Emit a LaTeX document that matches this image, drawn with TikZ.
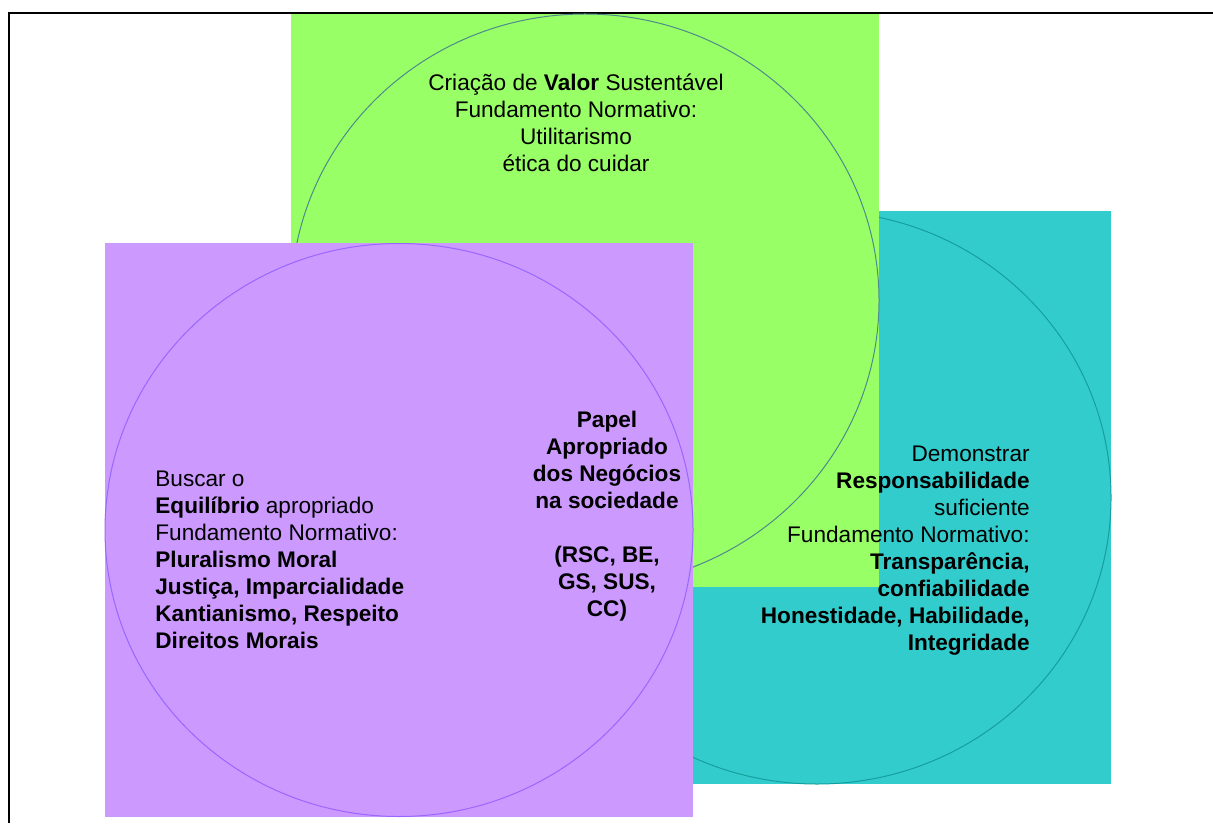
\documentclass[tikz,border=0pt]{standalone}
\usepackage{fontspec}
\setmainfont{Liberation Sans}
\definecolor{greenfill}{HTML}{99FF66}
\definecolor{tealfill}{HTML}{33CCCC}
\definecolor{violetfill}{HTML}{CC99FF}
\definecolor{greenline}{HTML}{4D8A8C}
\definecolor{tealline}{HTML}{169E9E}
\definecolor{violetline}{HTML}{9966FF}
\begin{document}
\begin{tikzpicture}[x=0.5pt,y=-0.5pt,
  label text/.style={inner sep=0pt, font=\fontsize{11.3}{13.5}\selectfont},
  ring/.style={line width=0.5pt},
  frameline/.style={line width=1pt, black}]
\useasboundingbox (0,0) rectangle (1213,823);
% outer frame: top and left rules only
\draw[frameline] (1213,13.5) -- (8.5,13.5) -- (8.5,823);

% teal square with inscribed ellipse (back)
\fill[tealfill] (523,211) rectangle (1111,784);
\draw[ring, tealline] (817,497.5) ellipse [x radius=294, y radius=286.5];

% green square with inscribed ellipse
\fill[greenfill] (291,14) rectangle (879,587);
\draw[ring, greenline] (585,300.5) ellipse [x radius=294, y radius=286.5];

% violet square with inscribed ellipse (front)
\fill[violetfill] (105,243.5) rectangle (693,816.5);
\draw[ring, violetline] (399,530) ellipse [x radius=294, y radius=286.5];

% texts
\node[label text, align=center] (valor) at (576,123)
  {Criação de \textbf{Valor} Sustentável\\Fundamento Normativo:\\Utilitarismo\\ética do cuidar};

\node[label text, align=left, anchor=west] (equilibrio) at (155,560)
  {Buscar o\\\textbf{Equilíbrio} apropriado\\Fundamento Normativo:\\\textbf{Pluralismo Moral}\\\textbf{Justiça, Imparcialidade}\\\textbf{Kantianismo, Respeito}\\\textbf{Direitos Morais}};

\node[label text, align=center, font=\fontsize{11.3}{13.5}\selectfont\bfseries] (papel) at (607,516.5)
  {Papel\\Apropriado\\dos Negócios\\na sociedade\\[13.5pt](RSC, BE,\\GS, SUS,\\CC)};

\node[label text, align=right, anchor=east] (responsabilidade) at (1030,550.5)
  {Demonstrar\\\textbf{Responsabilidade}\\suficiente\\Fundamento Normativo:\\\textbf{Transparência,}\\\textbf{confiabilidade}\\\textbf{Honestidade, Habilidade,}\\\textbf{Integridade}};
\end{tikzpicture}
\end{document}
